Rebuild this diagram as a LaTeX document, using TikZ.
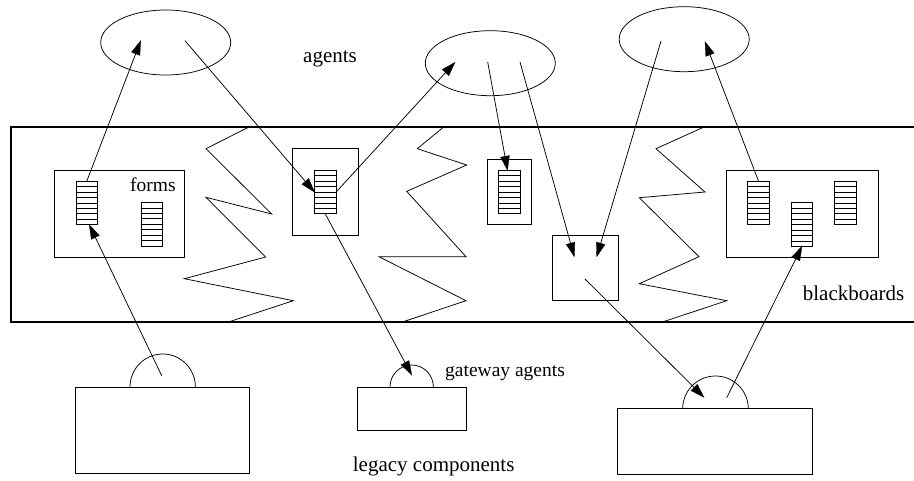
\documentclass[tikz,border=0pt]{standalone}
\usepackage{fontspec}
\setmainfont{Liberation Serif}
\usetikzlibrary{arrows.meta,shapes.geometric,calc}
\tikzset{
  thinline/.style={line width=0.75pt},
  bx/.style={draw,thinline,rectangle,inner sep=0pt,outer sep=0pt},
  agent/.style={draw,thinline,ellipse,inner sep=0pt,outer sep=0pt,minimum width=130pt,minimum height=65pt},
  stack/.style={draw,thinline,rectangle,inner sep=0pt,outer sep=0pt,minimum width=21.7pt,minimum height=43.7pt,
    path picture={\foreach \i in {1,...,7}{\draw[thinline] ($(path picture bounding box.north west)!\i/8!(path picture bounding box.south west)$) -- ($(path picture bounding box.north east)!\i/8!(path picture bounding box.south east)$);}}},
  conn/.style={line width=0.75pt,shorten >=3pt},
  headfill/.style={fill=black,draw=black,line width=0.3pt,line join=miter},
  plainarc/.style={thinline},
  zig/.style={thinline,line join=miter},
  lbl/.style={anchor=base west,inner sep=0pt,font=\fontsize{21}{24}\selectfont},
  slbl/.style={anchor=base west,inner sep=0pt,font=\fontsize{19.5}{23}\selectfont},
}
\newcommand\myarrow[2]{%
  \draw[conn] (#1) -- (#2);
  \path[headfill] ($(#2)!14.7pt!17.8:(#1)$) -- (#2) -- ($(#2)!14.7pt!-17.8:(#1)$) -- cycle;}
\begin{document}
\begin{tikzpicture}[x=1pt,y=-1pt]
\useasboundingbox (0,0) rectangle (914,480);
% blackboard band
\draw[line width=1.8pt] (914,127.3) -- (11,127.3) -- (11,321.7) -- (914,321.7);
% zigzags
\draw[zig] (248.3,127.3) -- (206,148.7) -- (271.7,214) -- (206,197.3) -- (265.7,257) -- (184.3,278.7) -- (293.3,300.7) -- (229.3,321.7);
\draw[zig] (443.3,127.3) -- (417.3,148.7) -- (466.7,165) -- (406.7,191.3) -- (466,256.7) -- (379,256.7) -- (466,300.7) -- (403.3,321.7);
\draw[zig] (703.3,127.3) -- (656,148.7) -- (705,192) -- (639.3,197.7) -- (699,256.7) -- (639.3,283.7) -- (726.7,300.7) -- (663.3,321.7);
% agents
\node[agent] (e1) at (165.7,42.5) {};
\node[agent] (e2) at (490.3,63.2) {};
\node[agent] (e3) at (684.2,39.2) {};
% blackboard boxes
\node[bx,minimum width=130pt,minimum height=86.7pt] (f1) at (119.3,213.65) {};
\node[bx,minimum width=65.7pt,minimum height=86.6pt] (b2) at (325.15,192) {};
\node[bx,minimum width=44pt,minimum height=65.4pt] (b3) at (509.3,192) {};
\node[bx,minimum width=65.3pt,minimum height=65.4pt] (b4) at (585.35,268) {};
\node[bx,minimum width=152pt,minimum height=86.7pt] (f5) at (802,213.65) {};
% stacks
\node[stack] (s1) at (86.8,202.9) {};
\node[stack] (s2) at (151.8,224.3) {};
\node[stack] (s3) at (325.3,192) {};
\node[stack] (s4) at (509.5,192) {};
\node[stack] (s5) at (758.5,202.9) {};
\node[stack] (s6) at (802,224.5) {};
\node[stack] (s7) at (845.3,202.9) {};
% legacy components
\node[bx,minimum width=173.6pt,minimum height=86.7pt] (l1) at (162.5,430.35) {};
\node[bx,minimum width=109pt,minimum height=43.3pt] (l2) at (411.5,408.65) {};
\node[bx,minimum width=195pt,minimum height=65.3pt] (l3) at (715.2,441.35) {};
% gateway arcs
\draw[plainarc] (130,387) arc[start angle=180,end angle=0,x radius=32.7pt,y radius=33pt];
\draw[plainarc] (390,387) arc[start angle=180,end angle=0,x radius=21.7pt,y radius=22pt];
\draw[plainarc] (682.7,408.7) arc[start angle=180,end angle=0,x radius=32.8pt,y radius=32.7pt];
% connector end points
\coordinate (e1a) at (140.7,40.7);
\coordinate (e1b) at (185,40.7);
\coordinate (e2a) at (455,62.3);
\coordinate (e2b) at (487.7,62);
\coordinate (e2c) at (520,62);
\coordinate (e3a) at (661,41);
\coordinate (e3b) at (705,41.7);
\coordinate (b4a) at (574.3,256.7);
\coordinate (b4b) at (596.7,256.7);
\coordinate (b4c) at (585,279);
\coordinate (g1) at (161.7,375.7);
\coordinate (g2) at (411.7,375);
\coordinate (g3a) at (704,397.3);
\coordinate (g3b) at (726.7,397.7);
\coordinate (s1b) at ([xshift=2.5pt]s1.south);
\coordinate (s1t) at (s1.north);
\coordinate (s3w) at (s3.west);
\coordinate (s3e) at (s3.east);
\coordinate (s3b) at (s3.south);
\coordinate (s4t) at ([xshift=-2pt]s4.north);
\coordinate (s5t) at (s5.north);
\coordinate (s6b) at (s6.south);
% connectors
\myarrow{g1}{s1b}
\myarrow{s1t}{e1a}
\myarrow{e1b}{s3w}
\myarrow{s3e}{e2a}
\myarrow{s3b}{g2}
\myarrow{e2b}{s4t}
\myarrow{e2c}{b4a}
\myarrow{e3a}{b4b}
\myarrow{b4c}{g3a}
\myarrow{g3b}{s6b}
\myarrow{s5t}{e3b}
% labels
\node[lbl] (tagents) at (303,62) {agents};
\node[slbl] (tforms) at (130,191.7) {forms};
\node[lbl] (tbb) at (802.7,300) {blackboards};
\node[slbl] (tgw) at (445,376.7) {gateway agents};
\node[lbl] (tlc) at (352.7,471.7) {legacy components};
\end{tikzpicture}
\end{document}
